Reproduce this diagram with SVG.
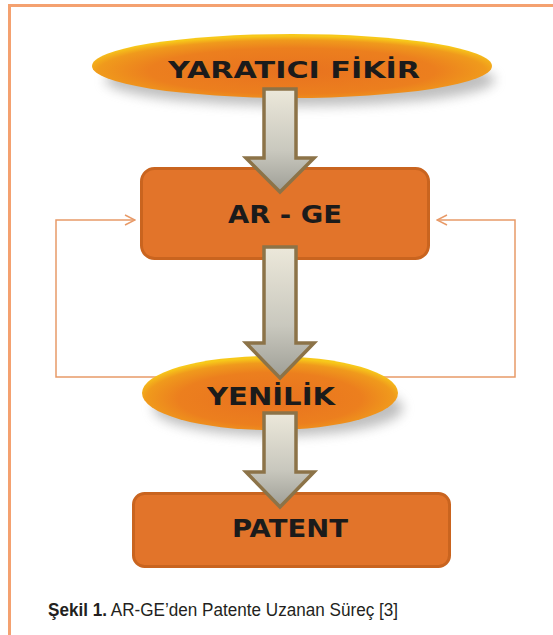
<svg xmlns="http://www.w3.org/2000/svg" width="553" height="635" viewBox="0 0 553 635">
  <style>
    .lbl { font-family: "DejaVu Sans", Verdana, sans-serif; font-weight: bold; fill: #1b1b1b; text-anchor: middle; }
    .box { fill: #E2742A; stroke: #C9641F; stroke-width: 3; }
    .ell { fill: url(#ellGrad); }
    .shadow { fill: #8a8a8a; opacity: 0.55; filter: url(#blur); }
    .arrow { fill: url(#arrGrad); stroke: #8C7348; stroke-width: 3.5; stroke-linejoin: miter; }
    .fb { fill: none; stroke: #E89A68; stroke-width: 1.5; }
    .cap { font-family: "Liberation Sans Narrow", "Liberation Sans", Arial, sans-serif; font-size: 17.5px; fill: #231f20; }
  </style>
  <defs>
    <radialGradient id="ellGrad" cx="0.5" cy="0.58" r="0.55">
      <stop offset="0" stop-color="#E8721F"/>
      <stop offset="0.65" stop-color="#EC7F1E"/>
      <stop offset="0.88" stop-color="#F09A1C"/>
      <stop offset="1" stop-color="#F7C81A"/>
    </radialGradient>
    <linearGradient id="arrGrad" x1="0" y1="0" x2="0" y2="1">
      <stop offset="0" stop-color="#ECE8DA"/>
      <stop offset="0.6" stop-color="#C9C8BE"/>
      <stop offset="1" stop-color="#9E9E96"/>
    </linearGradient>
    <filter id="blur" x="-20%" y="-50%" width="140%" height="200%">
      <feGaussianBlur stdDeviation="6"/>
    </filter>
    <marker id="open" viewBox="0 0 12 12" refX="11" refY="6" markerWidth="12" markerHeight="12" markerUnits="userSpaceOnUse" orient="auto">
      <path d="M1,1 L11,6 L1,11" fill="none" stroke="#E89A68" stroke-width="1.5"/>
    </marker>
  </defs>

  <rect width="553" height="635" fill="#ffffff"/>
  <!-- frame -->
  <path d="M9.5,640 L9.5,5.5 L560,5.5" fill="none" stroke="#F4A170" stroke-width="3"/>

  <!-- feedback connectors -->
  <g id="connectors">
    <path class="fb" d="M200,377 L56,377 L56,220 L135,220" marker-end="url(#open)"/>
    <path class="fb" d="M380,377 L515,377 L515,220 L437,220" marker-end="url(#open)"/>
  </g>

  <g id="node-yaratici">
    <ellipse class="shadow" cx="300" cy="80" rx="195" ry="26"/>
    <ellipse class="ell" cx="292" cy="66" rx="200" ry="32"/>
    <text class="lbl" x="294" y="78" font-size="23" textLength="252" lengthAdjust="spacingAndGlyphs">YARATICI FİKİR</text>
  </g>

  <g id="node-arge">
    <rect class="box" x="141.5" y="168.5" width="287" height="90" rx="13"/>
    <text class="lbl" x="285" y="223" font-size="24" textLength="114" lengthAdjust="spacingAndGlyphs">AR - GE</text>
  </g>

  <g id="node-yenilik">
    <ellipse class="shadow" cx="278" cy="408" rx="125" ry="28"/>
    <ellipse class="ell" cx="270" cy="393" rx="128" ry="37"/>
    <text class="lbl" x="271" y="405" font-size="24" textLength="128" lengthAdjust="spacingAndGlyphs">YENİLİK</text>
  </g>

  <g id="node-patent">
    <rect class="box" x="133.5" y="493.5" width="316" height="73" rx="11"/>
    <text class="lbl" x="290" y="537" font-size="25" textLength="116" lengthAdjust="spacingAndGlyphs">PATENT</text>
  </g>

  <g id="arrows">
    <path class="arrow" d="M264,89 L296,89 L296,158 L314,158 L280,192 L246,158 L264,158 Z"/>
    <path class="arrow" d="M264,247 L296,247 L296,343 L314,343 L280,378 L246,343 L264,343 Z"/>
    <path class="arrow" d="M264,413 L296,413 L296,472 L314,472 L280,507 L246,472 L264,472 Z"/>
  </g>

  <g id="caption">
    <text class="cap" x="48" y="616" textLength="350" lengthAdjust="spacingAndGlyphs"><tspan font-weight="bold">Şekil 1.</tspan> AR-GE’den Patente Uzanan Süreç [3]</text>
  </g>
</svg>
